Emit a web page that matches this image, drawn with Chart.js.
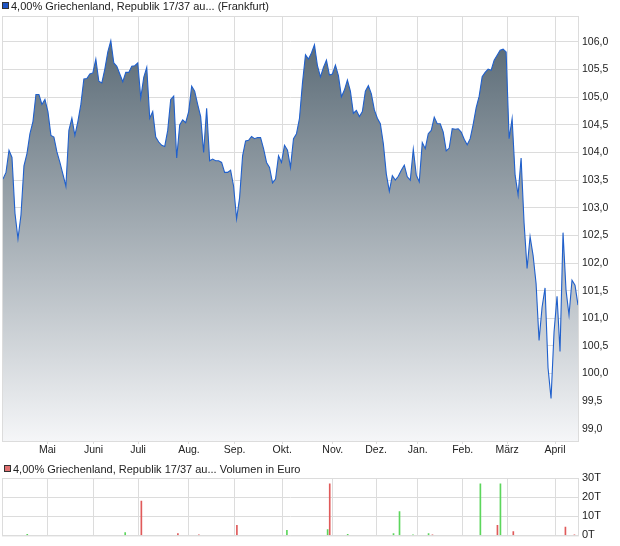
<!DOCTYPE html>
<html>
<head>
<meta charset="utf-8">
<script src="https://cdn.jsdelivr.net/npm/chart.js@4.4.1/dist/chart.umd.min.js"></script>
<style>
  body { margin: 0; background: #fff; }
  #kurs { position: absolute; left: 0; top: 0; }
  #volumen { position: absolute; left: 0; top: 460px; }
</style>
</head>
<body>
<canvas id="kurs" width="620" height="460"></canvas>
<canvas id="volumen" width="620" height="86"></canvas>
<script>
// Titel
const titelKurs = '4,00% Griechenland, Republik 17/37 au... (Frankfurt)';
const titelVolumen = '4,00% Griechenland, Republik 17/37 au... Volumen in Euro';

// Schlusskurse (ca. alle 1-2 Handelstage)
const kurse = [
  103.52, 103.64, 104.04, 103.91, 102.90, 102.44, 102.87, 103.76, 103.98, 104.34,
  104.56, 105.05, 105.05, 104.87, 104.96, 104.74, 104.31, 104.28, 104.01, 103.82,
  103.61, 103.39, 104.40, 104.62, 104.31, 104.56, 104.87, 105.33, 105.34, 105.42,
  105.44, 105.69, 105.29, 105.26, 105.51, 105.82, 106.02, 105.62, 105.56, 105.42,
  105.28, 105.45, 105.45, 105.56, 105.57, 105.62, 104.99, 105.36, 105.54, 104.62,
  104.74, 104.28, 104.19, 104.13, 104.11, 104.40, 104.96, 105.02, 103.90, 104.50,
  104.59, 104.54, 104.74, 105.20, 105.11, 104.87, 104.65, 104.00, 104.80, 103.85,
  103.88, 103.85, 103.85, 103.82, 103.64, 103.64, 103.68, 103.39, 102.80, 103.18,
  103.94, 104.21, 104.22, 104.29, 104.25, 104.27, 104.27, 104.07, 103.82, 103.73,
  103.45, 103.52, 103.94, 103.82, 104.13, 104.04, 103.73, 104.25, 104.34, 104.62,
  105.26, 105.77, 105.69, 105.80, 105.95, 105.57, 105.37, 105.54, 105.67, 105.40,
  105.42, 105.58, 105.39, 105.01, 105.13, 105.31, 105.11, 104.71, 104.76, 104.65,
  104.74, 105.11, 105.21, 105.06, 104.77, 104.62, 104.52, 104.16, 103.61, 103.30,
  103.58, 103.50, 103.57, 103.68, 103.77, 103.56, 103.50, 104.06, 103.59, 103.47,
  104.18, 104.07, 104.34, 104.40, 104.64, 104.52, 104.52, 104.37, 104.03, 104.08,
  104.43, 104.42, 104.43, 104.37, 104.24, 104.14, 104.25, 104.51, 104.81, 105.02,
  105.37, 105.45, 105.51, 105.49, 105.67, 105.76, 105.85, 105.87, 105.82, 104.25,
  104.61, 103.59, 103.23, 103.90, 102.72, 101.90, 102.48, 102.14, 101.63, 100.60,
  101.20, 101.55, 100.10, 99.55, 100.75, 101.40, 100.40, 102.55, 101.51, 101.06,
  101.69, 101.60, 101.24
];

// Monatsanfaenge (Position in der Kursreihe) und Beschriftung
const monate = ['Mai', 'Juni', 'Juli', 'Aug.', 'Sep.', 'Okt.', 'Nov.', 'Dez.', 'Jan.', 'Feb.', 'März', 'April'];
const monatsAnfang = [14.83, 30.23, 45.1, 62.1, 77.33, 93.23, 110.1, 124.57, 138.5, 153.5, 168.33, 184.33];

const kursTicks = [99.0, 99.5, 100.0, 100.5, 101.0, 101.5, 102.0, 102.5, 103.0, 103.5, 104.0, 104.5, 105.0, 105.5, 106.0];
const volumenTicks = [0, 10, 20, 30];

// Umsaetze in Tausend Euro
const rotTage = [46.2, 58.4, 65.4, 78.1, 109.1, 143.4, 165.1, 170.4, 187.8, 190.8];
const rotWerte = [18, 1, 0.2, 5.2, 27, 0.2, 5.2, 2, 4.3, 0.2];
const gruenTage = [8.1, 40.8, 94.8, 108.4, 115.1, 130.4, 132.4, 136.9, 142.1, 159.4, 166.1];
const gruenWerte = [0.5, 1.5, 2.6, 3.1, 0.5, 1, 12.4, 0.2, 1, 27, 27];

Chart.defaults.font.family = '"Liberation Sans", Arial, sans-serif';
Chart.defaults.color = '#222';
Chart.defaults.animation = false;

const gitter = '#dcdcdc';

const rahmenUndLegende = {
  id: 'rahmenUndLegende',
  afterDraw(chart, args, o) {
    const { ctx, chartArea: a } = chart;
    ctx.save();
    ctx.strokeStyle = gitter;
    ctx.lineWidth = 1;
    ctx.strokeRect(a.left - 0.5, a.top + 0.5, a.right - a.left + 1, a.bottom - a.top);
    ctx.fillStyle = o.farbe;
    ctx.fillRect(o.x, o.y, 7, 7);
    ctx.strokeStyle = '#333';
    ctx.strokeRect(o.x + 0.5, o.y + 0.5, 6, 6);
    ctx.fillStyle = '#222';
    ctx.font = '11px "Liberation Sans", Arial, sans-serif';
    ctx.textBaseline = 'alphabetic';
    ctx.fillText(o.text, o.x + 9, o.y + 8);
    ctx.restore();
  }
};

const monatsTicks = s => { s.ticks = monatsAnfang.map(v => ({ value: v })); };

new Chart(document.getElementById('kurs'), {
  type: 'line',
  data: {
    datasets: [{
      data: kurse.map((y, i) => ({ x: i, y })),
      borderColor: '#2060cc',
      borderWidth: 1.1,
      pointRadius: 0,
      tension: 0,
      fill: 'start',
      backgroundColor: (c) => {
        const a = c.chart.chartArea;
        if (!a) return 'rgba(0,0,0,0)';
        const g = c.chart.ctx.createLinearGradient(0, a.top, 0, a.bottom);
        g.addColorStop(0, '#52636f');
        g.addColorStop(1, '#f5f6f8');
        return g;
      }
    }]
  },
  options: {
    responsive: false,
    devicePixelRatio: 1,
    layout: { padding: { left: 3, top: 16, right: 0, bottom: 0 } },
    plugins: {
      legend: { display: false },
      tooltip: { enabled: false },
      rahmenUndLegende: { text: titelKurs, farbe: '#1f55c4', x: 2, y: 2 }
    },
    scales: {
      x: {
        type: 'linear', min: 0, max: kurse.length - 1,
        afterBuildTicks: monatsTicks,
        ticks: { callback: (v, i) => monate[i], autoSkip: false, maxRotation: 0, padding: 0, font: { size: 10.5 } },
        grid: { color: gitter, tickLength: 3 },
        border: { display: false },
        afterFit: s => { s.height = 19; }
      },
      y: {
        position: 'right', min: 98.78, max: 106.47,
        afterBuildTicks: s => { s.ticks = kursTicks.map(v => ({ value: v })); },
        ticks: { callback: v => v.toFixed(1).replace('.', ','), padding: 4, font: { size: 10.5 } },
        grid: { color: gitter, drawTicks: false },
        border: { display: false },
        afterFit: s => { s.width = 42; }
      }
    }
  },
  plugins: [rahmenUndLegende]
});

new Chart(document.getElementById('volumen'), {
  type: 'bar',
  data: {
    datasets: [{
      data: rotTage.map((x, i) => ({ x, y: rotWerte[i] })),
      backgroundColor: '#e05a5a',
      barThickness: 1,
      grouped: false
    }, {
      data: gruenTage.map((x, i) => ({ x, y: gruenWerte[i] })),
      backgroundColor: '#5cd65c',
      barThickness: 1,
      grouped: false
    }]
  },
  options: {
    responsive: false,
    devicePixelRatio: 1,
    layout: { padding: { left: 3, top: 18, right: 0, bottom: 0 } },
    plugins: {
      legend: { display: false },
      tooltip: { enabled: false },
      rahmenUndLegende: { text: titelVolumen, farbe: '#e07070', x: 4, y: 5 }
    },
    scales: {
      x: {
        type: 'linear', min: 0, max: kurse.length - 1, offset: false,
        afterBuildTicks: monatsTicks,
        ticks: { display: false },
        grid: { color: gitter, drawTicks: false, offset: false },
        border: { display: false },
        afterFit: s => { s.height = 10; }
      },
      y: {
        position: 'right', min: 0, max: 30,
        afterBuildTicks: s => { s.ticks = volumenTicks.map(v => ({ value: v })); },
        ticks: { callback: v => v + 'T', padding: 4, font: { size: 11 } },
        grid: { color: gitter, drawTicks: false },
        border: { display: false },
        afterFit: s => { s.width = 42; }
      }
    }
  },
  plugins: [rahmenUndLegende]
});
</script>
</body>
</html>
